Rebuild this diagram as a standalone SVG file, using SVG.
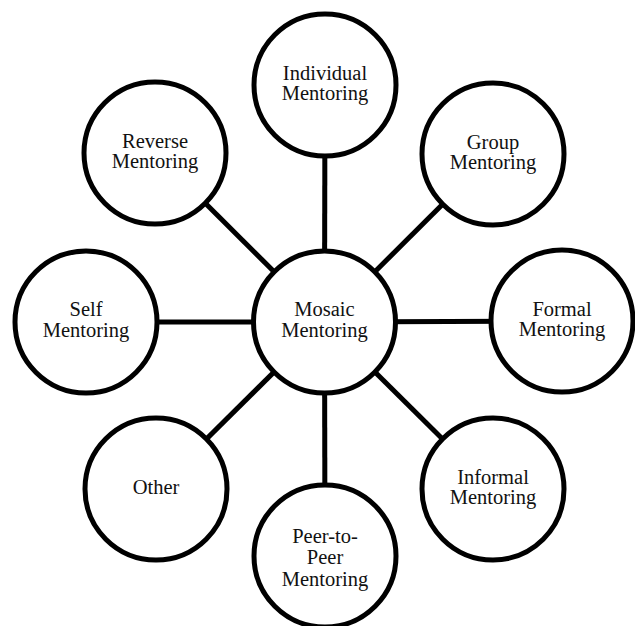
<svg xmlns="http://www.w3.org/2000/svg" width="635" height="626" viewBox="0 0 635 626">
<style>
.n{fill:#fff;stroke:#000;stroke-width:5}
.c{stroke:#000;stroke-width:5}
text{font-family:"Liberation Serif","Times New Roman",serif;font-size:20.5px;fill:#111;text-anchor:middle}
</style>
<rect width="635" height="626" fill="#fff"/>
<g id="connectors">
<line class="c" x1="324.5" y1="322" x2="325" y2="85"/>
<line class="c" x1="324.5" y1="322" x2="155" y2="153"/>
<line class="c" x1="324.5" y1="322" x2="493" y2="154"/>
<line class="c" x1="324.5" y1="322" x2="86" y2="322"/>
<line class="c" x1="324.5" y1="322" x2="562" y2="321"/>
<line class="c" x1="324.5" y1="322" x2="156" y2="489"/>
<line class="c" x1="324.5" y1="322" x2="493" y2="489"/>
<line class="c" x1="324.5" y1="322" x2="325" y2="556"/>
</g>
<g id="mosaic"><circle class="n" cx="324.5" cy="322" r="71"/><text x="324.5" y="316">Mosaic</text><text x="324.5" y="337">Mentoring</text></g>
<g id="individual"><circle class="n" cx="325" cy="85" r="71"/><text x="325" y="80">Individual</text><text x="325" y="100">Mentoring</text></g>
<g id="reverse"><circle class="n" cx="155" cy="153" r="71"/><text x="155" y="148">Reverse</text><text x="155" y="168">Mentoring</text></g>
<g id="group"><circle class="n" cx="493" cy="154" r="71"/><text x="493" y="149">Group</text><text x="493" y="169">Mentoring</text></g>
<g id="self"><circle class="n" cx="86" cy="322" r="71"/><text x="86" y="316">Self</text><text x="86" y="337">Mentoring</text></g>
<g id="formal"><circle class="n" cx="562" cy="321" r="71"/><text x="562" y="316">Formal</text><text x="562" y="336">Mentoring</text></g>
<g id="other"><circle class="n" cx="156" cy="489" r="71"/><text x="156" y="494">Other</text></g>
<g id="informal"><circle class="n" cx="493" cy="489" r="71"/><text x="493" y="484">Informal</text><text x="493" y="504">Mentoring</text></g>
<g id="peer"><circle class="n" cx="325" cy="556" r="71"/><text x="325" y="543">Peer-to-</text><text x="325" y="564">Peer</text><text x="325" y="586">Mentoring</text></g>
</svg>
